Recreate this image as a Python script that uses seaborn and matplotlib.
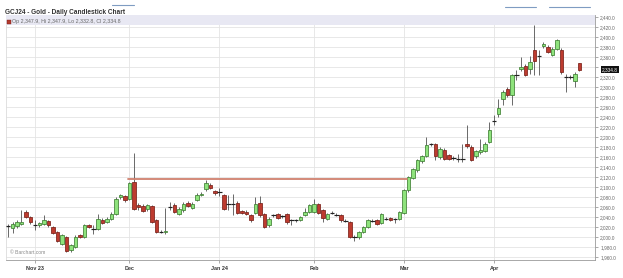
import numpy as np
import pandas as pd
import matplotlib
matplotlib.use("Agg")
import matplotlib.pyplot as plt
import matplotlib.transforms as mtransforms
from matplotlib.patches import Rectangle
from matplotlib.lines import Line2D
import seaborn as sns

# ---------------- data ----------------
opens = [2022, 2019, 2023, 2027, 2051, 2041, 2025, 2024, 2027, 2032,
         2021, 2011, 1987, 2001, 1974, 1981, 2004, 2001, 2024, 2015,
         2017, 2035, 2031, 2037, 2047, 2081, 2082, 2077, 2111, 2064,
         2063, 2056, 2062, 2034, 2012, 2011, 2060, 2065, 2047, 2054,
         2069, 2059, 2075, 2084, 2096, 2105, 2092, 2090, 2084, 2067,
         2067, 2069, 2052, 2051, 2044, 2049, 2069, 2047, 2024, 2044,
         2047, 2042, 2047, 2034, 2034, 2034, 2044, 2051, 2051, 2066,
         2054, 2037, 2049, 2046, 2044, 2033, 2031, 2001, 2001, 2011,
         2021, 2033, 2034, 2029, 2037, 2039, 2036, 2037, 2049, 2094,
         2119, 2134, 2152, 2162, 2186, 2186, 2160, 2175, 2164, 2159,
         2157, 2157, 2187, 2181, 2162, 2170, 2173, 2191, 2232, 2247,
         2277, 2297, 2284, 2325, 2336, 2343, 2337, 2374, 2363, 2382,
         2381, 2365, 2377, 2375, 2321, 2320, 2312, 2347.9]
highs = [2027, 2030, 2034, 2055, 2054, 2043, 2034, 2031, 2045, 2035,
         2023, 2013, 2007, 2003, 1987, 2004, 2007, 2026, 2027, 2024,
         2047, 2038, 2040, 2050, 2080, 2087, 2085, 2110, 2168, 2068,
         2066, 2067, 2065, 2036, 2015, 2058, 2070, 2068, 2060, 2071,
         2072, 2070, 2088, 2090, 2114, 2108, 2094, 2098, 2086, 2084,
         2087, 2072, 2055, 2054, 2046, 2080, 2082, 2049, 2040, 2047,
         2049, 2045, 2049, 2037, 2037, 2043, 2058, 2067, 2077, 2068,
         2056, 2049, 2052, 2048, 2046, 2036, 2033, 2004, 2013, 2023,
         2037, 2036, 2036, 2048, 2040, 2041, 2039, 2053, 2096, 2123,
         2139, 2157, 2164, 2201, 2189, 2188, 2180, 2178, 2167, 2162,
         2167, 2187, 2224, 2184, 2175, 2197, 2190, 2231, 2244, 2277,
         2294, 2300, 2327, 2334, 2361, 2347, 2363, 2424, 2374, 2390,
         2384, 2380, 2397, 2378, 2327, 2324, 2330, 2347.9]
lows = [2001, 2008, 2018, 2024, 2038, 2027, 2014, 2021, 2024, 2021,
        2006, 1990, 1985, 1970, 1970, 1978, 1998, 1999, 2018, 2007,
        2014, 2027, 2029, 2035, 2045, 2077, 2071, 2074, 2054, 2055,
        2050, 2053, 2028, 2008, 2008, 2007, 2055, 2048, 2044, 2051,
        2060, 2057, 2072, 2082, 2093, 2096, 2085, 2083, 2054, 2054,
        2044, 2046, 2046, 2044, 2031, 2046, 2041, 2018, 2021, 2040,
        2036, 2039, 2027, 2024, 2031, 2032, 2042, 2049, 2049, 2046,
        2030, 2035, 2046, 2042, 2031, 2030, 1998, 1993, 1997, 2008,
        2018, 2030, 2025, 2027, 2034, 2032, 2029, 2034, 2046, 2091,
        2116, 2131, 2149, 2160, 2183, 2155, 2157, 2154, 2154, 2155,
        2150, 2151, 2179, 2152, 2159, 2167, 2170, 2188, 2224, 2241,
        2264, 2281, 2264, 2314, 2333, 2322, 2327, 2324, 2324, 2379,
        2368, 2362, 2374, 2327, 2291, 2317, 2300, 2332.8]
closes = [2023, 2027, 2031, 2031, 2041, 2031, 2024, 2029, 2035, 2024,
          2009, 1993, 2004, 1973, 1984, 2001, 2001, 2024, 2021, 2016,
          2037, 2029, 2037, 2047, 2077, 2084, 2074, 2108, 2057, 2060,
          2053, 2064, 2031, 2011, 2011, 2013, 2061, 2051, 2057, 2067,
          2063, 2067, 2085, 2087, 2109, 2099, 2088, 2091, 2057, 2067,
          2067, 2049, 2049, 2047, 2034, 2067, 2044, 2021, 2037, 2044,
          2039, 2042, 2031, 2034, 2034, 2041, 2051, 2064, 2066, 2049,
          2039, 2047, 2049, 2045, 2034, 2033, 2001, 2001, 2011, 2021,
          2035, 2033, 2027, 2046, 2037, 2034, 2036, 2051, 2094, 2121,
          2137, 2155, 2162, 2184, 2186, 2162, 2177, 2157, 2157, 2159,
          2157, 2157, 2182, 2155, 2172, 2174, 2187, 2214, 2232, 2259,
          2291, 2284, 2324, 2325, 2340, 2325, 2351, 2352, 2363, 2387,
          2371, 2377, 2394, 2330, 2321, 2321, 2327, 2334.8]

holidays = ["2023-11-23", "2023-12-25", "2024-01-01", "2024-01-15",
            "2024-02-19", "2024-03-29"]
start_date, end_date = "2023-10-24", "2024-04-26"
month_labels = ["Nov 23", "Dec", "Jan 24", "Feb", "Mar", "Apr"]
resistance_level = 2116
resistance_from, resistance_to = "2023-12-01", "2024-03-01"
y_ticks = list(range(1960, 2441, 20))
title = "GCJ24 - Gold - Daily Candlestick Chart"
legend_text = "Op 2,347.9, Hi 2,347.9, Lo 2,332.8, Cl 2,334.8"
last_price = 2334.8

# ---------------- build frame ----------------
dates = pd.bdate_range(start_date, end_date).difference(pd.to_datetime(holidays))
df = pd.DataFrame({"date": dates, "open": opens, "high": highs,
                   "low": lows, "close": closes})
df["idx"] = np.arange(len(df))
df["month"] = df["date"].dt.to_period("M")
month_first = df.groupby("month")["idx"].min().iloc[1:]
tick_pos = list(month_first.values)

# ---------------- style ----------------
sns.set_theme(style="white")
plt.rcParams["font.family"] = ["Liberation Sans", "DejaVu Sans"]

fig = plt.figure(figsize=(6.23, 2.78), dpi=100)
H = 278.0
W = 623.0
ax_left, ax_right = 6 / W, 595 / W
ax_top, ax_bot = 1 - 15 / H, 1 - 260 / H
ax = fig.add_axes([ax_left, ax_bot, ax_right - ax_left, ax_top - ax_bot])
ax.set_facecolor("white")

# grid
for yv in y_ticks:
    ax.axhline(yv, color="#e4e4e4", lw=0.6, zorder=0)
for xv in tick_pos:
    ax.axvline(xv, color="#e4e4e4", lw=0.6, zorder=0)

up = df["close"] >= df["open"]
body = (df["close"] - df["open"]).abs()
doji = body < 1.6

green_fill, green_edge = "#8ee37c", "#3f7f33"
red_fill, red_edge = "#bd3b2f", "#7a2119"

# wicks
ax.vlines(df["idx"], df["low"], df["high"], color="#5e5e5e", lw=0.65, zorder=2)

# bodies
w = 0.72
sel = up & ~doji
ax.bar(df.loc[sel, "idx"], body[sel], bottom=df.loc[sel, "open"], width=w,
       color=green_fill, edgecolor=green_edge, linewidth=0.55, zorder=3)
sel = ~up & ~doji
ax.bar(df.loc[sel, "idx"], body[sel], bottom=df.loc[sel, "close"], width=w,
       color=red_fill, edgecolor=red_edge, linewidth=0.55, zorder=3)
ax.hlines(df.loc[doji, "close"], df.loc[doji, "idx"] - 0.45,
          df.loc[doji, "idx"] + 0.45, color="#222222", lw=0.85, zorder=3)

# resistance line
x0 = df.loc[df["date"] == pd.Timestamp(resistance_from), "idx"].iloc[0] - 0.3
x1 = df.loc[df["date"] == pd.Timestamp(resistance_to), "idx"].iloc[0] + 0.7
sns.lineplot(x=[x0, x1], y=[resistance_level, resistance_level],
             color="#d0806e", lw=1.3, ax=ax, zorder=4)

# limits
px_per_bar = 4.5
ax.set_xlim((6 - 8) / px_per_bar, (595 - 8) / px_per_bar)
ax.set_ylim(2440 - (260 - 17) * 2, 2440 + (17 - 15) * 2)

# axes / ticks (the 2,340.0 label is covered by the last-price box)
ax.yaxis.tick_right()
ax.set_yticks(y_ticks)
ax.set_yticklabels(["" if abs(v - last_price) < 10 else f"{v:,.1f}" for v in y_ticks],
                   fontsize=3.4, color="#666666")
ax.set_xticks(tick_pos)
ax.set_xticklabels(month_labels, fontsize=3.9, color="#333333", fontweight="bold")
ax.tick_params(axis="y", which="major", direction="out", length=2.5,
               width=0.5, color="#888888", pad=1.2, right=True, left=False)
ax.tick_params(axis="x", which="major", direction="out", length=2,
               width=0.5, color="#888888", pad=2.0, bottom=True)
ax.set_xlabel("")
ax.set_ylabel("")
for s in ["left", "top"]:
    ax.spines[s].set_visible(False)
for s in ["right", "bottom"]:
    ax.spines[s].set_color("#9a9a9a")
    ax.spines[s].set_linewidth(0.6)
ax.axvline(ax.get_xlim()[0], color="#dcdcdc", lw=0.6, zorder=1)

# header band inside plot
band_frac = 10 / 245
ax.add_patch(Rectangle((0, 1 - band_frac), 1, band_frac, transform=ax.transAxes,
                       facecolor="#e8e8f3", edgecolor="none", zorder=5))
fig.add_artist(Rectangle((7 / W, 1 - 23.5 / H), 3.5 / W, 3.5 / H,
                         facecolor="#b33a2e", edgecolor="#7a2119", lw=0.3))
fig.text(12.5 / W, 1 - 22 / H, legend_text, fontsize=3.8, color="#666666",
         va="center", ha="left")

# price label
trans = mtransforms.blended_transform_factory(ax.transAxes, ax.transData)
ax.text(1.012, last_price, f"{last_price:,.1f}", transform=trans, fontsize=3.4,
        color="white", va="center", ha="left", zorder=10, clip_on=False,
        bbox=dict(boxstyle="square,pad=0.25", facecolor="#111111", edgecolor="none"))

# title and watermark
fig.text(5 / W, 1 - 12.5 / H, title, fontsize=4.7, fontweight="bold",
         color="#333333", va="center", ha="left")
fig.text(10 / W, 1 - 252 / H, "\u00a9 Barchart.com", fontsize=3.6,
         color="#8a8a8a", va="center", ha="left")

# small tab underline artifacts at the top
for (xa, xb, yy) in [(112, 134, 5), (505, 536, 6.5), (549, 590, 6.5)]:
    fig.add_artist(Line2D([xa / W, xb / W], [1 - yy / H, 1 - yy / H],
                          color="#7f9cc2", lw=0.8))

fig.savefig("out.png", dpi=100)
